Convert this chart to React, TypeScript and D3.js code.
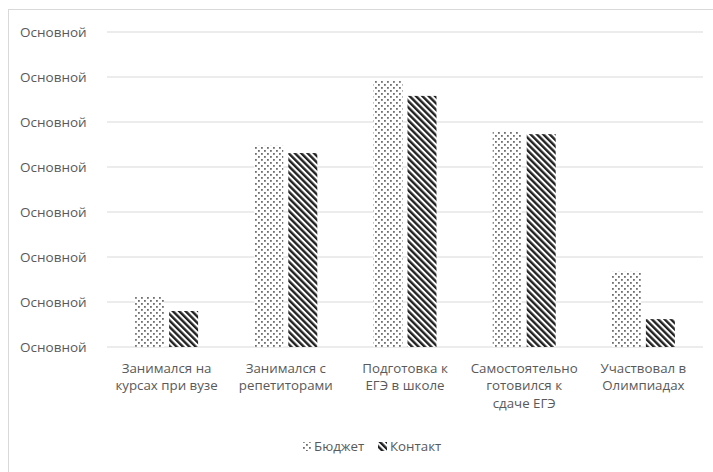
import React from "react";
import * as d3 from "d3";

const categories: string[][] = [
  ["Занимался на", "курсах при вузе"],
  ["Занимался с", "репетиторами"],
  ["Подготовка к", "ЕГЭ в школе"],
  ["Самостоятельно", "готовился к", "сдаче ЕГЭ"],
  ["Участвовал в", "Олимпиадах"],
];
const seriesNames = ["Бюджет", "Контакт"];
const budget = [1.13, 4.47, 5.91, 4.78, 1.67];
const contact = [0.8, 4.31, 5.58, 4.73, 0.62];
const tickValues = [0, 1, 2, 3, 4, 5, 6, 7];
const tickLabel = "Основной";

const W = 713;
const H = 472;
const plotLeft = 107;
const plotRight = 703;
const plotTop = 32;
const plotBottom = 347;
const font = "'Open Sans', 'Liberation Sans', sans-serif";
const textColor = "#595959";

export default function App() {
  const y = d3.scaleLinear().domain([0, 7]).range([plotBottom, plotTop]);
  const x0 = d3
    .scaleBand<number>()
    .domain(categories.map((_, i) => i))
    .range([plotLeft, plotRight])
    .paddingInner(0)
    .paddingOuter(0);
  const barW = 29;
  const gap = 5;
  const data = [budget, contact];
  const fills = ["url(#dots)", "url(#stripes)"];

  return (
    <svg
      width={W}
      height={H}
      style={{ position: "absolute", left: 0, top: 0, background: "#fff" }}
    >
      <defs>
        <pattern id="dots" width="6" height="6" patternUnits="userSpaceOnUse">
          <rect width="6" height="6" fill="#fff" />
          <rect x="0" y="0" width="1.8" height="1.8" fill="#6f6f6f" />
          <rect x="3" y="3" width="1.8" height="1.8" fill="#6f6f6f" />
        </pattern>
        <pattern
          id="stripes"
          width="4.5"
          height="4.5"
          patternUnits="userSpaceOnUse"
          patternTransform="rotate(-45)"
        >
          <rect width="4.5" height="4.5" fill="#fff" />
          <rect x="0" y="0" width="2.4" height="4.5" fill="#222" />
        </pattern>
      </defs>
      <rect x={8.5} y={9.5} width={800} height={800} fill="#fff" stroke="#d9d9d9" />
      {tickValues.map((t) => (
        <g key={t}>
          <line
            x1={plotLeft}
            x2={plotRight}
            y1={y(t)}
            y2={y(t)}
            stroke="#d9d9d9"
            strokeWidth={1}
          />
          <text
            x={20}
            y={y(t)}
            dy="0.35em"
            fontFamily={font}
            fontSize={13.5}
            fill={textColor}
          >
            {tickLabel}
          </text>
        </g>
      ))}
      {categories.map((_, i) => {
        const c = (x0(i) as number) + x0.bandwidth() / 2;
        return (
          <g key={i}>
            {data.map((s, k) => {
              const bx = k === 0 ? c - gap / 2 - barW : c + gap / 2;
              return (
                <rect
                  key={k}
                  x={bx}
                  y={y(s[i])}
                  width={barW}
                  height={plotBottom - y(s[i])}
                  fill={fills[k]}
                />
              );
            })}
          </g>
        );
      })}
      {categories.map((lines, i) => {
        const c = (x0(i) as number) + x0.bandwidth() / 2;
        return (
          <text
            key={i}
            x={c}
            y={368}
            textAnchor="middle"
            fontFamily={font}
            fontSize={13.3}
            fill={textColor}
          >
            {lines.map((l, j) => (
              <tspan key={j} x={c} dy={j === 0 ? "0.35em" : 17.5}>
                {l}
              </tspan>
            ))}
          </text>
        );
      })}
      <g>
        {seriesNames.map((n, k) => {
          const lx = k === 0 ? 302 : 378;
          return (
            <g key={n}>
              <rect x={lx} y={442} width={9} height={9} fill={fills[k]} />
              <text
                x={lx + 12}
                y={446.5}
                dy="0.35em"
                fontFamily={font}
                fontSize={13.3}
                fill={textColor}
              >
                {n}
              </text>
            </g>
          );
        })}
      </g>
    </svg>
  );
}
